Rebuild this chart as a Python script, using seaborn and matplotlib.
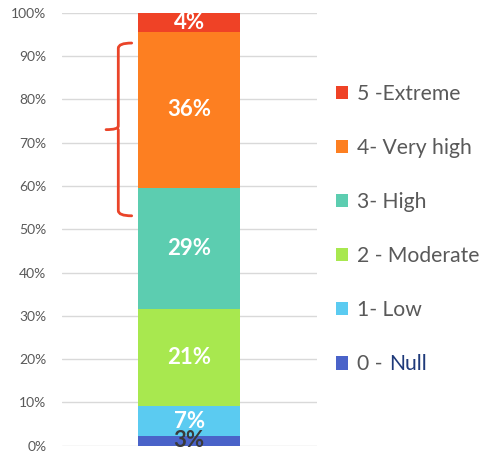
import matplotlib
matplotlib.use("Agg")
import matplotlib.pyplot as plt
from matplotlib.patches import Patch, PathPatch
from matplotlib.path import Path
import seaborn as sns
import numpy as np

# ---- data ----
categories = ["0 -", "1- Low", "2 - Moderate", "3- High", "4- Very high", "5 -Extreme"]
values = [2.3, 6.8, 22.5, 28.0, 35.9, 4.5]          # segment heights (%)
value_labels = ["3%", "7%", "21%", "29%", "36%", "4%"]
colors = ["#4a63c9", "#5bcbf1", "#a8e84f", "#5ccdb0", "#fd7f21", "#ef4226"]
label_colors = ["#3a3a3a", "white", "white", "white", "white", "white"]
yticks = list(range(0, 101, 10))
brace_range = [53.1, 93.0, 73.0]  # bottom, top, tip (%)

sns.set_theme(style="white")
plt.rcParams["font.family"] = ["Lato", "DejaVu Sans"]

fig = plt.figure(figsize=(4.83, 4.55), dpi=100)
ax = fig.add_axes([0.1277, 0.0204, 0.528, 0.9516])

cum = np.cumsum(values)
# draw cumulative bars from tallest to shortest -> stacked look
for i in range(len(values) - 1, -1, -1):
    sns.barplot(x=["Risk"], y=[cum[i]], color=colors[i], saturation=1,
                width=0.4, ax=ax, zorder=3, linewidth=0)

ax.set_xlim(-0.5, 0.5)
ax.set_ylim(0, 100)
ax.set_yticks(yticks)
ax.set_yticklabels([f"{t}%" for t in yticks], color="#595959", fontsize=10)
ax.tick_params(axis="y", length=0, pad=11)
ax.set_xticks([])
ax.set_xlabel("")
ax.set_ylabel("")
for s in ax.spines.values():
    s.set_visible(False)
ax.yaxis.grid(True, color="#d9d9d9", linewidth=1)
ax.set_axisbelow(True)

# value labels
bottoms = cum - np.array(values)
for i, (b, v) in enumerate(zip(bottoms, values)):
    ax.text(0, b + v / 2, value_labels[i], ha="center", va="center",
            color=label_colors[i], fontsize=16, fontweight="bold", zorder=5)

# curly brace
lo, hi, tip = brace_range
xv, xh, xt = -0.278, -0.2255, -0.326
verts = [(xh, hi), (xv, hi), (xv, hi - 1.2),          # top hook
         (xv, tip + 0.8),                               # down
         (xv, tip), (xt, tip),                          # to tip
         (xv, tip), (xv, tip - 0.8),                    # back
         (xv, lo + 1.2),                                # down
         (xv, lo), (xh, lo)]                            # bottom hook
codes = [Path.MOVETO, Path.CURVE3, Path.CURVE3,
         Path.LINETO,
         Path.CURVE3, Path.CURVE3,
         Path.MOVETO, Path.LINETO,
         Path.LINETO,
         Path.CURVE3, Path.CURVE3]
brace = PathPatch(Path(verts, codes), fill=False, edgecolor="#ea4429",
                  linewidth=2.0, zorder=4, capstyle="round", joinstyle="round")
ax.add_patch(brace)

# legend
handles = [Patch(facecolor=c, edgecolor="none") for c in colors][::-1]
labels = categories[::-1]
leg = fig.legend(handles, labels, loc="upper left",
                 bbox_to_anchor=(336 / 483, 1 - 84 / 455),
                 frameon=False, fontsize=15.2, labelcolor="#595959",
                 handlelength=0.58, handleheight=0.58, handletextpad=0.4,
                 labelspacing=1.615, borderpad=0, borderaxespad=0)

fig.canvas.draw()
last = leg.get_texts()[-1]
bb = last.get_window_extent()
fig.text((bb.x1 + 7) / fig.bbox.width, (bb.y0 + bb.y1) / 2 / fig.bbox.height,
         "Null", color="#1f3a7a", fontsize=15.2, va="center", ha="left")

fig.savefig("out.png", dpi=100)
